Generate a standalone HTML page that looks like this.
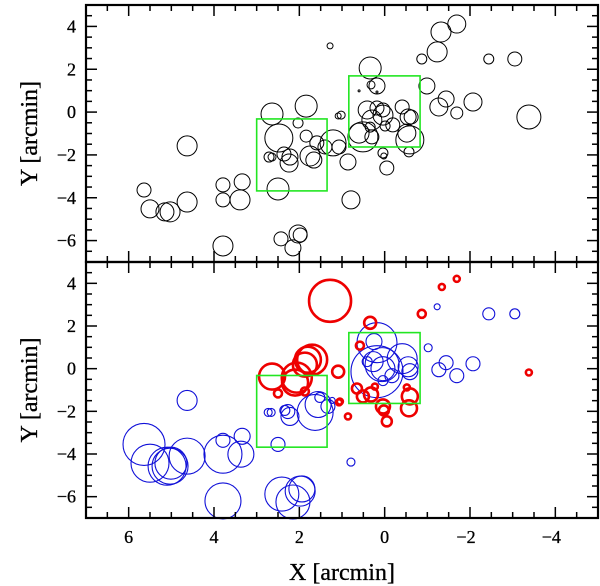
<!DOCTYPE html>
<html><head><meta charset="utf-8">
<style>
html,body{margin:0;padding:0;background:#fff;}
svg{display:block;font-family:"Liberation Serif",serif;}
</style></head>
<body>
<svg id="chart" width="600" height="586" viewBox="0 0 600 586" xmlns="http://www.w3.org/2000/svg"></svg>
<script>
// ---- data (arcmin) ----
const topX=[1.28,1.84,2.64,1.02,1.09,2.03,2.48,1.84,1.21,1.59,1.40,4.63,2.71,2.64,2.36,2.22,2.24,1.75,1.66,5.64,3.79,3.34,2.50,5.50,5.15,5.03,4.63,3.79,3.39,3.79,2.43,2.03,1.98,2.15,-1.69,-1.32,-1.23,-0.87,-2.44,-3.05,0.34,0.18,0.32,0.60,0.18,-0.99,-1.44,-1.27,-2.07,-1.69,-3.38,0.41,0.18,0.04,0.30,0.04,-0.19,-0.41,-0.55,-0.62,-0.52,-0.59,0.60,0.51,0.30,0.34,-0.01,1.07,0.04,0.02,-0.57,0.86,-0.05,0.79];
const topY=[3.09,0.28,-0.09,-0.14,-0.18,-0.51,-1.21,-1.12,-1.44,-1.44,-1.63,-1.58,-2.10,-2.10,-1.96,-2.10,-2.38,-2.05,-2.24,-3.64,-3.40,-3.26,-3.59,-4.52,-4.66,-4.66,-4.20,-4.10,-4.10,-6.25,-5.92,-5.69,-5.74,-6.34,4.11,3.74,2.81,2.48,2.48,2.48,2.06,1.22,1.27,0.99,0.94,1.22,0.61,0.24,0.47,-0.04,-0.23,0.10,0.19,0.10,-0.37,-0.14,-0.60,0.24,-0.23,-0.23,-0.98,-1.30,-0.98,-1.16,-1.16,-0.70,-0.65,-1.63,-1.91,-2.05,-1.86,-2.33,-2.61,-4.10];
const topR=[3,11,11,4,3,5,14,6,13,7,7,10,5,4,7,8,9,10,8,7,7,8,11,9,9,10,10,7,10,10,7,9,7,8,9,10,10,5,5,7,11,8,4,1,1,8,8,9,9,6,12,9,7,7,10,10,7,7,8,7,9,14,10,15,7,5,5,7,5,3,5,8,7,9];

const redX=[1.28,1.80,1.70,1.87,2.06,2.64,2.10,1.09,2.50,1.87,1.05,-1.69,-1.34,-0.87,0.34,0.58,-3.38,0.65,0.51,0.32,0.23,1.07,0.86,0.04,0.02,-0.05,-0.52,-0.59,-0.57];
const redY=[3.18,0.42,0.42,0.19,-0.42,-0.37,-0.65,-0.14,-1.16,-1.07,-1.54,4.21,3.83,2.57,2.15,1.08,-0.18,-0.93,-1.30,-1.21,-0.84,-1.58,-2.24,-1.77,-1.96,-2.47,-0.88,-1.30,-1.86];
const redR=[21,13,15,12,15,13,13,6,4,4,3,3,3,4,6,4,3,5,6,7,3,3,3,7,5,5,3,8,8];

const blueX=[4.63,1.56,1.63,1.52,1.23,1.33,2.73,2.66,2.34,2.22,2.27,2.50,5.64,5.50,5.10,5.03,5.01,4.63,3.79,3.79,3.34,3.37,3.79,2.41,1.98,1.94,2.15,-1.23,-2.44,-3.05,-1.02,-1.44,-1.27,-2.07,-1.69,0.79,0.18,0.25,0.18,0.06,0.41,0.04,-0.41,-0.55,-0.59,-0.17,0.04,0.27];
const blueY=[-1.49,-1.68,-2.05,-1.35,-1.49,-1.77,-2.05,-2.05,-1.96,-2.24,-2.01,-3.55,-3.55,-4.43,-4.57,-4.57,-4.43,-4.10,-4.01,-3.36,-3.17,-4.01,-6.20,-5.88,-5.74,-5.64,-6.25,2.90,2.57,2.57,0.98,0.28,-0.05,0.23,-0.33,-4.38,1.22,1.27,-0.14,0.19,0.33,0.00,0.47,0.09,-0.14,-0.33,-0.56,0.33];
const blueR=[10,13,18,5,3,7,4,4,5,9,7,7,21,19,19,18,16,18,19,7,8,13,18,17,15,13,17,3,6,5,4,7,7,7,7,4,20,8,26,17,5,12,15,10,8,7,5,10];

const boxX0=[3.0,0.84], boxX1=[1.35,-0.83], boxY0=[-0.32,1.69], boxY1=[-3.68,-1.63];
const xTickLabels=[6,4,2,0,-2,-4];
const yTickLabels=[4,2,0,-2,-4,-6];

// ---- layout ----
const L=86,R=598,panels=[{top:5,bot:262},{top:262,bot:518}];
const xMin=7,xMax=-5,yMin=-7,yMax=5;
const NS='http://www.w3.org/2000/svg';
const svg=document.getElementById('chart');
function sx(v){return L+(xMin-v)/(xMin-xMax)*(R-L);}
function sy(v,p){return p.top+(yMax-v)/(yMax-yMin)*(p.bot-p.top);}
function mk(tag,attrs,parent){const e=document.createElementNS(NS,tag);for(const k in attrs)e.setAttribute(k,attrs[k]);(parent||svg).appendChild(e);return e;}
function lbl(v){return v<0?'\u2212'+(-v):String(v);}

function drawCircles(p,xs,ys,rs,color,w,name){
  const g=mk('g',{});
  
  
  for(let i=0;i<xs.length;i++){
    const c=mk('circle',{cx:sx(xs[i]),cy:sy(ys[i],p),r:rs[i],fill:'none',stroke:color,'stroke-width':w},g);
    
    
  }
}
function drawBoxes(p,pi){
  for(let i=0;i<boxX0.length;i++){
    const x0=sx(boxX0[i]),x1=sx(boxX1[i]),y0=sy(boxY0[i],p),y1=sy(boxY1[i],p);
    const r=mk('rect',{x:x0,y:y0,width:x1-x0,height:y1-y0,fill:'none',stroke:'#22e622','stroke-width':1.6});
    
    
  }
}
function drawAxes(p,pi,showX){
  const g=mk('g',{stroke:'#000','stroke-width':1.5});
  
  
  for(let v=-5;v<=7.001;v+=0.5){
    const x=sx(v),major=Math.abs(v%2)<1e-6,len=major?11:6;
    mk('line',{x1:x,y1:p.top,x2:x,y2:p.top+len},g);
    mk('line',{x1:x,y1:p.bot,x2:x,y2:p.bot-len},g);
  }
  for(let v=-7;v<=5.001;v+=0.5){
    const y=sy(v,p),major=Math.abs(v%2)<1e-6,len=major?11:6;
    mk('line',{x1:L,y1:y,x2:L+len,y2:y},g);
    mk('line',{x1:R,y1:y,x2:R-len,y2:y},g);
  }
  const fr=mk('rect',{x:L,y:p.top,width:R-L,height:p.bot-p.top,fill:'none',stroke:'#000','stroke-width':2.2});
  
  
  yTickLabels.forEach(v=>{
    const t=mk('text',{x:76,y:sy(v,p)+6,'text-anchor':'end','font-size':18,stroke:'#000','stroke-width':0.3});
    t.textContent=lbl(v);
    
    
  });
  const yt=mk('text',{x:0,y:0,'text-anchor':'middle','font-size':24,stroke:'#000','stroke-width':0.3,transform:'translate(37,'+((p.top+p.bot)/2)+') rotate(-90)'});
  yt.textContent='Y [arcmin]';
  
  
  if(showX){
    xTickLabels.forEach(v=>{
      const t=mk('text',{x:sx(v)-(v<0?4:0),y:p.bot+25,'text-anchor':'middle','font-size':18,stroke:'#000','stroke-width':0.3});
      t.textContent=lbl(v);
      
      
    });
    const xt=mk('text',{x:342,y:580,'text-anchor':'middle','font-size':24,stroke:'#000','stroke-width':0.3});
    xt.textContent='X [arcmin]';
    
    
  }
}
drawCircles(panels[0],topX,topY,topR,'#000',1,'all-sources');
drawBoxes(panels[0],0);
drawAxes(panels[0],0,false);
drawCircles(panels[1],blueX,blueY,blueR,'#1010d8',1.1,'blue');
drawCircles(panels[1],redX,redY,redR,'#ee0000',2.6,'red');
drawBoxes(panels[1],1);
drawAxes(panels[1],1,true);
</script>
</body></html>
